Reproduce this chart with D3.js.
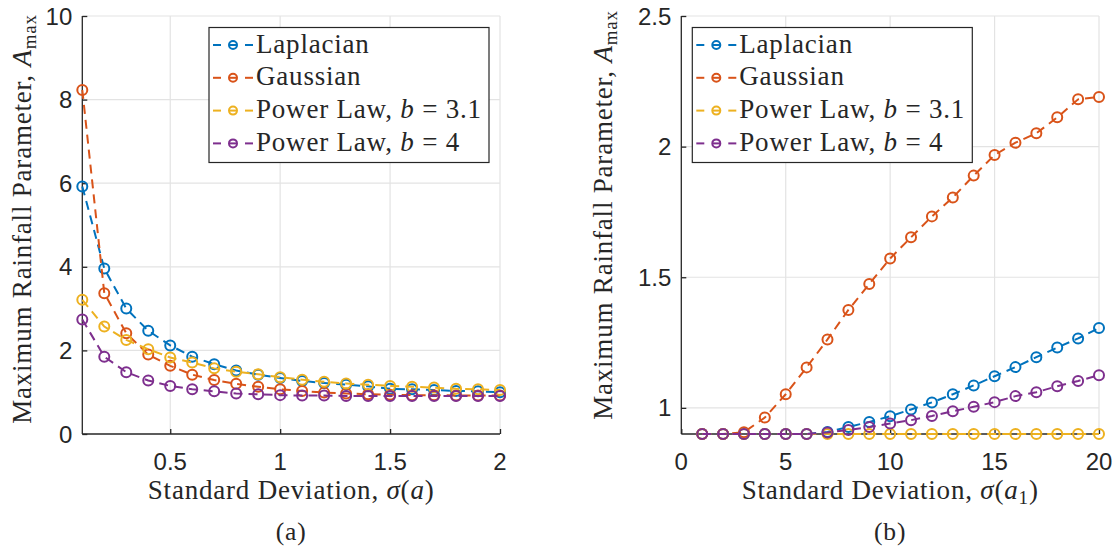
<!DOCTYPE html>
<html>
<head>
<meta charset="utf-8">
<script src="https://cdn.jsdelivr.net/npm/d3@7"></script>
<style>
  body { margin: 0; background: #fff; }
  svg { display: block; }
</style>
</head>
<body>
<svg id="chart" width="1117" height="550"></svg>
<script>
// ---------- data ----------
var seriesNames = ["Laplacian", "Gaussian", "Power Law, ", "Power Law, "];
var seriesB = [null, null, "3.1", "4"];
var colors = ["#0072BD", "#D95319", "#EDB120", "#7E2F8E"];

// panel (a): sigma(a)
var xA = [0.1, 0.2, 0.3, 0.4, 0.5, 0.6, 0.7, 0.8, 0.9, 1.0,
          1.1, 1.2, 1.3, 1.4, 1.5, 1.6, 1.7, 1.8, 1.9, 2.0];
var lapA  = [5.92, 3.96, 3.00, 2.47, 2.12, 1.85, 1.67, 1.52, 1.42, 1.34,
             1.27, 1.22, 1.18, 1.14, 1.08, 1.07, 1.05, 1.03, 1.02, 1.00];
var gauA  = [8.23, 3.37, 2.41, 1.90, 1.63, 1.42, 1.29, 1.20, 1.13, 1.07,
             1.03, 0.99, 0.97, 0.95, 0.94, 0.93, 0.93, 0.92, 0.92, 0.92];
var pl31A = [3.21, 2.57, 2.25, 2.03, 1.83, 1.71, 1.57, 1.49, 1.43, 1.36,
             1.30, 1.25, 1.21, 1.18, 1.15, 1.13, 1.11, 1.08, 1.07, 1.05];
var pl4A  = [2.74, 1.85, 1.48, 1.28, 1.15, 1.07, 1.02, 0.97, 0.95, 0.93,
             0.92, 0.92, 0.91, 0.91, 0.91, 0.91, 0.91, 0.91, 0.91, 0.91];
var xTicksA = [0.5, 1, 1.5, 2];
var yTicksA = [0, 2, 4, 6, 8, 10];

// panel (b): sigma(a1)
var xB = [1, 2, 3, 4, 5, 6, 7, 8, 9, 10, 11, 12, 13, 14, 15, 16, 17, 18, 19, 20];
var lapB  = [0.90, 0.90, 0.90, 0.90, 0.90, 0.90, 0.908, 0.927, 0.946, 0.968,
             0.994, 1.021, 1.052, 1.086, 1.121, 1.156, 1.194, 1.231, 1.266, 1.306];
var gauB  = [0.90, 0.90, 0.907, 0.963, 1.052, 1.155, 1.262, 1.375, 1.474, 1.572,
             1.653, 1.733, 1.805, 1.889, 1.968, 2.015, 2.051, 2.112, 2.181, 2.190];
var pl31B = [0.90, 0.90, 0.90, 0.90, 0.90, 0.90, 0.90, 0.90, 0.90, 0.90,
             0.90, 0.90, 0.90, 0.90, 0.90, 0.90, 0.90, 0.90, 0.90, 0.90];
var pl4B  = [0.90, 0.90, 0.90, 0.90, 0.90, 0.90, 0.906, 0.915, 0.927, 0.940,
             0.953, 0.969, 0.987, 1.004, 1.022, 1.045, 1.060, 1.083, 1.103, 1.125];
var xTicksB = [0, 5, 10, 15, 20];
var yTicksB = [1, 1.5, 2, 2.5];

var SERIF = "'Liberation Serif'";
var SANS = "'Liberation Sans'";

var svg = d3.select("#chart");

// serif text helper
function serifText(sel, size) {
  return sel.append("text")
    .style("font-family", SERIF)
    .style("font-size", size + "px")
    .style("letter-spacing", "0.8px")
    .attr("fill", "#262626");
}

function drawPanel(opt) {
  var g = svg.append("g");
  var x = d3.scaleLinear().domain(opt.xDomain).range([opt.left, opt.right]);
  var y = d3.scaleLinear().domain(opt.yDomain).range([opt.bottom, opt.top]);

  // grid
  g.selectAll(".gx").data(opt.xGrid).enter().append("line")
    .attr("x1", function(d) { return x(d); }).attr("x2", function(d) { return x(d); })
    .attr("y1", opt.top).attr("y2", opt.bottom)
    .attr("stroke", "#e3e3e3").attr("stroke-width", 1.2);
  g.selectAll(".gy").data(opt.yGrid).enter().append("line")
    .attr("y1", function(d) { return y(d); }).attr("y2", function(d) { return y(d); })
    .attr("x1", opt.left).attr("x2", opt.right)
    .attr("stroke", "#e3e3e3").attr("stroke-width", 1.2);

  // axes (ticks inward, labels drawn separately)
  var xAxis = d3.axisBottom(x).tickValues(opt.xTicks).tickSize(-5).tickFormat("");
  var yAxis = d3.axisLeft(y).tickValues(opt.yTicks).tickSize(-5).tickFormat("");
  var gx = g.append("g").attr("transform", "translate(0," + opt.bottom + ")").call(xAxis);
  var gy = g.append("g").attr("transform", "translate(" + opt.left + ",0)").call(yAxis);
  [gx, gy].forEach(function(a) {
    a.select(".domain").attr("stroke", "#262626").attr("stroke-width", 1.3);
    a.selectAll(".tick line").attr("stroke", "#262626").attr("stroke-width", 1.3);
  });
  gx.select(".domain").attr("d", "M" + opt.left + ",0H" + opt.right);
  gy.select(".domain").attr("d", "M0," + opt.bottom + "V" + opt.top);

  g.selectAll(".xl").data(opt.xTicks).enter().append("text")
    .style("font-family", SANS).style("font-size", "24px").attr("fill", "#262626")
    .attr("x", function(d) { return x(d); }).attr("y", opt.bottom + 36)
    .attr("text-anchor", "middle").text(function(d) { return d; });
  g.selectAll(".yl").data(opt.yTicks).enter().append("text")
    .style("font-family", SANS).style("font-size", "24px").attr("fill", "#262626")
    .attr("x", opt.left - 10).attr("y", function(d) { return y(d) + 8.5; })
    .attr("text-anchor", "end").text(function(d) { return d; });

  // series
  opt.series.forEach(function(vals, i) {
    var pts = opt.xs.map(function(xv, k) { return [xv, vals[k]]; });
    var line = d3.line().x(function(d) { return x(d[0]); }).y(function(d) { return y(d[1]); });
    var s = g.append("g");
    s.append("path").datum(pts).attr("d", line)
      .attr("fill", "none").attr("stroke", colors[i]).attr("stroke-width", 2)
      .attr("stroke-dasharray", "9,6");
    s.selectAll("circle").data(pts).enter().append("circle")
      .attr("cx", function(d) { return x(d[0]); })
      .attr("cy", function(d) { return y(d[1]); })
      .attr("r", 5).attr("fill", "none")
      .attr("stroke", colors[i]).attr("stroke-width", 2);
  });

  // x label
  var xl = serifText(g, 27)
    .attr("x", (opt.left + opt.right) / 2).attr("y", 498.5).attr("text-anchor", "middle");
  xl.append("tspan").text("Standard Deviation, ");
  xl.append("tspan").style("font-style", "italic").text("σ");
  xl.append("tspan").text("(");
  xl.append("tspan").style("font-style", "italic").text("a");
  if (opt.sub) {
    xl.append("tspan").style("font-size", "19px").attr("dy", 5).text(opt.sub);
    xl.append("tspan").attr("dy", -5).text(")");
  } else {
    xl.append("tspan").text(")");
  }

  // y label
  var yl = serifText(g, 27)
    .attr("transform", "translate(" + opt.yLabelX + "," + opt.yLabelY + ") rotate(-90)")
    .attr("text-anchor", "middle");
  yl.append("tspan").text("Maximum Rainfall Parameter, ");
  yl.append("tspan").style("font-style", "italic").text("A");
  yl.append("tspan").style("font-size", "19px").attr("dy", 5).text("max");

  // caption
  serifText(g, 25.5)
    .attr("x", (opt.left + opt.right) / 2).attr("y", 540)
    .attr("text-anchor", "middle").text(opt.caption);

  // legend
  var lg = g.append("g");
  lg.append("rect").attr("x", opt.legX).attr("y", 27.5)
    .attr("width", 280).attr("height", 135)
    .attr("fill", "#fff").attr("stroke", "#262626").attr("stroke-width", 1.2);
  seriesNames.forEach(function(name, i) {
    var cy = 45 + i * 32.8;
    var lx = opt.legX + 4;
    lg.append("line").attr("x1", lx).attr("x2", lx + 8).attr("y1", cy).attr("y2", cy)
      .attr("stroke", colors[i]).attr("stroke-width", 2);
    lg.append("line").attr("x1", lx + 32).attr("x2", lx + 40).attr("y1", cy).attr("y2", cy)
      .attr("stroke", colors[i]).attr("stroke-width", 2);
    lg.append("line").attr("x1", lx + 16).attr("x2", lx + 24).attr("y1", cy).attr("y2", cy)
      .attr("stroke", colors[i]).attr("stroke-width", 2);
    lg.append("circle").attr("cx", lx + 20).attr("cy", cy).attr("r", 4)
      .attr("fill", "none").attr("stroke", colors[i]).attr("stroke-width", 2);
    var t = serifText(lg, 27)
      .attr("x", opt.legX + 47).attr("y", cy + 7.5);
    t.append("tspan").text(name);
    if (seriesB[i]) {
      t.append("tspan").style("font-style", "italic").text("b");
      t.append("tspan").text(" = " + seriesB[i]);
    }
  });
}

drawPanel({
  left: 82.3, right: 500, top: 16, bottom: 434,
  xDomain: [0.1, 2], yDomain: [0, 10],
  xTicks: xTicksA, yTicks: yTicksA,
  xGrid: [0.5, 1, 1.5, 2], yGrid: [2, 4, 6, 8, 10],
  xs: xA, series: [lapA, gauA, pl31A, pl4A],
  yLabelX: 31, yLabelY: 219, caption: "(a)", legX: 209, sub: null
});

drawPanel({
  left: 681.3, right: 1099, top: 16, bottom: 434,
  xDomain: [0, 20], yDomain: [0.9, 2.5],
  xTicks: xTicksB, yTicks: yTicksB,
  xGrid: [5, 10, 15, 20], yGrid: [1, 1.5, 2, 2.5],
  xs: xB, series: [lapB, gauB, pl31B, pl4B],
  yLabelX: 612, yLabelY: 215, caption: "(b)", legX: 692.3, sub: "1"
});
</script>
</body>
</html>
